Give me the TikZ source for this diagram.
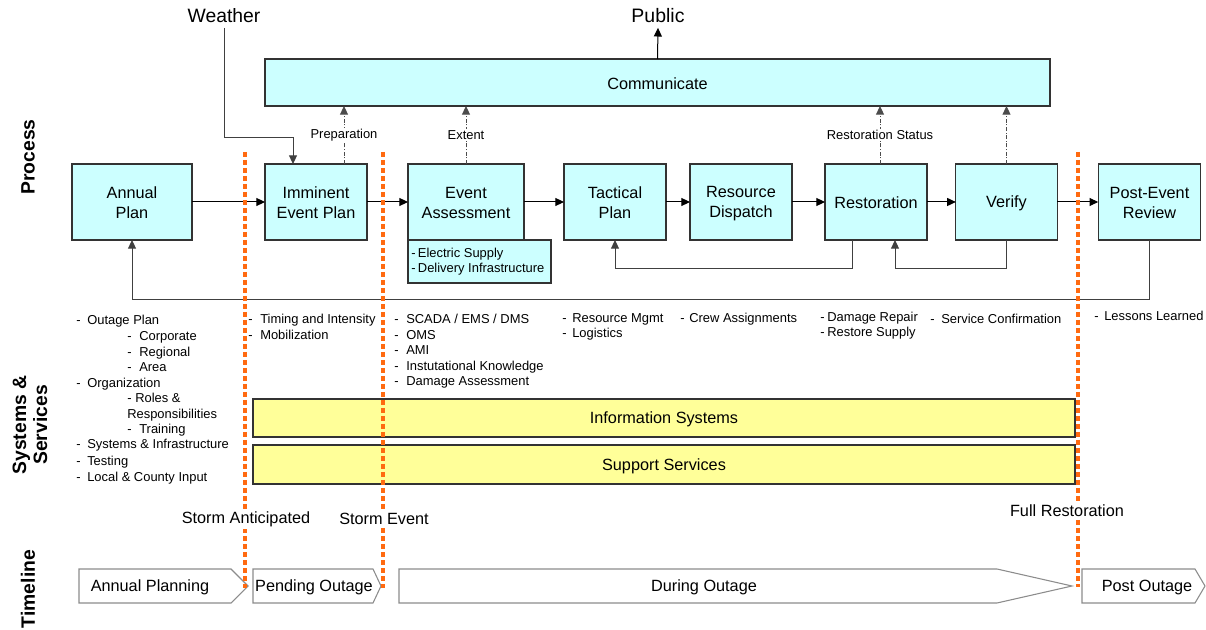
\documentclass[tikz,border=0pt]{standalone}
\usepackage{fontspec}
\setmainfont{Liberation Sans}
\usetikzlibrary{arrows.meta,calc}
\definecolor{boxcyan}{HTML}{CCFFFF}
\definecolor{boxyellow}{HTML}{FFFF99}
\definecolor{stormorange}{HTML}{FF6A10}
\definecolor{edgegray}{HTML}{333333}
% bullet dash followed by a gap of the given width
\newcommand\dsh[1]{\makebox[#1][l]{-}}
% strut that keeps box text vertically centred
\newcommand\bstrut{\rule[-1pt]{0pt}{12pt}}

\begin{document}
\begin{tikzpicture}[x=0.75pt,y=-0.75pt,
  font=\fontsize{12.2}{15}\selectfont,
  procbox/.style={draw=edgegray, line width=0.8pt, fill=boxcyan, inner sep=0pt, outer sep=0pt,
                  minimum height=57pt, align=center},
  sysbox/.style={draw=edgegray, line width=0.8pt, fill=boxyellow, inner sep=0pt, outer sep=0pt,
                 minimum width=616.5pt},
  flowarrow/.style={line width=0.75pt, -{Triangle[length=6.5pt,width=6pt]}},
  returnarrow/.style={flowarrow, draw=black!75},
  infoarrow/.style={flowarrow, draw=black!70, dash pattern=on 3pt off 1.2pt on 0.8pt off 1.2pt},
  smalltext/.style={font=\fontsize{9.7}{11.6}\selectfont},
  listitem/.style={smalltext, anchor=base west, inner sep=0pt},
  flowlabel/.style={smalltext, fill=white, inner sep=1pt},
  sectionlabel/.style={font=\fontsize{14.5}{15.75}\selectfont\bfseries, rotate=90, align=center},
  stormline/.style={draw=stormorange, line width=2.8pt, dash pattern=on 3.6pt off 2.4pt},
  milestone/.style={fill=white, inner sep=1.5pt},
  phaseshape/.style={draw=black!45, line width=0.8pt, fill=white},
]
\useasboundingbox (0,0) rectangle (1206,630);

% ---- section headings ----
\node[sectionlabel] (hproc) at (28,157) {Process};
\node[sectionlabel] (hsys) at (30,425) {Systems \&\\Services};
\node[sectionlabel] (htime) at (28,589) {Timeline};

% ---- process chain ----
\node[procbox, minimum width=90pt]   (ap)   at (132,202)   {\bstrut Annual\\\bstrut Plan};
\node[procbox, minimum width=76.5pt] (imm)  at (316,202)   {\bstrut Imminent\\\bstrut Event Plan};
\node[procbox, minimum width=87pt]   (ea)   at (466,202)   {\bstrut Event\\\bstrut Assessment};
\node[procbox, minimum width=107.25pt, minimum height=32.25pt, anchor=north west] (easub) at (ea.south west) {};
\node[procbox, minimum width=76.5pt] (tac)  at (615,202)   {\bstrut Tactical\\\bstrut Plan};
\node[procbox, minimum width=76.5pt] (rd)   at (741,202)   {\bstrut Resource\\\bstrut Dispatch};
\node[procbox, minimum width=76.5pt] (rest) at (876,202)   {\bstrut Restoration};
\node[procbox, minimum width=76pt]   (ver)  at (1006.5,202) {\bstrut Verify};
\node[procbox, minimum width=77pt]   (post) at (1149.5,202) {\bstrut Post-Event\\\bstrut Review};

\node[listitem] (es1) at (411,258) {\dsh{5pt}Electric Supply};
\node[listitem] (es2) at (411,273) {\dsh{5pt}Delivery Infrastructure};

\node[procbox, minimum width=588.75pt, minimum height=35.25pt] (comm) at (657.5,82.5) {\bstrut Communicate};

\node[font=\fontsize{14.5}{16}\selectfont] (weather) at (224,16) {Weather};
\node[font=\fontsize{14.6}{16}\selectfont] (public)  at (658,16) {Public};

% ---- connectors ----
\draw[flowarrow] (ap) -- (imm);
\draw[flowarrow] (imm) -- (ea);
\draw[flowarrow] (ea) -- (tac);
\draw[flowarrow] (tac) -- (rd);
\draw[flowarrow] (rd) -- (rest);
\draw[flowarrow] (rest) -- (ver);
\draw[flowarrow] (ver) -- (post);
\draw[flowarrow] (comm.north) -- (public.south);

\coordinate (wbend) at (224,138);
\draw[returnarrow] (weather.south) -- (wbend) -| ([xshift=-17.25pt]imm.north);

\draw[returnarrow] ([xshift=-18pt]rest.south) -- ++(0,29) -| (tac.south);
\draw[returnarrow] (ver.south) -- ++(0,29) -| ([xshift=14.25pt]rest.south);
\draw[returnarrow] (post.south) -- ++(0,60) -| (ap.south);

\draw[infoarrow] ([xshift=21pt]imm.north) -- ([xshift=21pt]imm.north |- comm.south)
  node[flowlabel, pos=0.5] (lprep) {Preparation};
\draw[infoarrow] (ea.north) -- (ea.north |- comm.south)
  node[flowlabel, pos=0.5] (lext) {Extent};
\draw[infoarrow] ([xshift=3pt]rest.north) -- ([xshift=3pt]rest.north |- comm.south)
  node[flowlabel, pos=0.5] (lstat) {Restoration Status};
\draw[infoarrow] (ver.north) -- (ver.north |- comm.south);

% ---- systems & services lists ----
\node[listitem] (o1)  at (76,325)  {\dsh{8.25pt}Outage Plan};
\node[listitem] (o2)  at (127,341) {\dsh{9pt}Corporate};
\node[listitem] (o3)  at (127,357) {\dsh{9pt}Regional};
\node[listitem] (o4)  at (127,372) {\dsh{9pt}Area};
\node[listitem] (o5)  at (76,388)  {\dsh{8.25pt}Organization};
\node[listitem] (o6)  at (127,403) {\dsh{6pt}Roles \&};
\node[listitem] (o7)  at (127,419) {Responsibilities};
\node[listitem] (o8)  at (127,434) {\dsh{9pt}Training};
\node[listitem] (o9)  at (76,449)  {\dsh{8.25pt}Systems \& Infrastructure};
\node[listitem] (o10) at (76,465)  {\dsh{8.25pt}Testing};
\node[listitem] (o11) at (76,481)  {\dsh{8.25pt}Local \& County Input};

\node[listitem] (t1) at (248,324) {\dsh{9pt}Timing and Intensity};
\node[listitem] (t2) at (248,340) {\dsh{9pt}Mobilization};

\node[listitem] (s1) at (394,324) {\dsh{9pt}SCADA / EMS / DMS};
\node[listitem] (s2) at (394,340) {\dsh{9pt}OMS};
\node[listitem] (s3) at (394,355) {\dsh{9pt}AMI};
\node[listitem] (s4) at (394,371) {\dsh{9pt}Instutational Knowledge};
\node[listitem] (s5) at (394,386) {\dsh{9pt}Damage Assessment};

\node[listitem] (r1) at (562,323) {\dsh{7.5pt}Resource Mgmt};
\node[listitem] (r2) at (562,338) {\dsh{7.5pt}Logistics};

\node[listitem] (c1) at (680,323) {\dsh{6.75pt}Crew Assignments};

\node[listitem] (d1) at (820,322) {\dsh{5.25pt}Damage Repair};
\node[listitem] (d2) at (820,337) {\dsh{5.25pt}Restore Supply};

\node[listitem] (v1) at (930,324) {\dsh{8.25pt}Service Confirmation};

\node[listitem] (p1) at (1094,321) {\dsh{7.5pt}Lessons Learned};

\node[sysbox, minimum height=28.5pt]  (isys) at (664,418)   {\bstrut Information Systems};
\node[sysbox, minimum height=29.25pt] (ssvc) at (664,464.5) {\bstrut Support Services};

% ---- timeline phases ----
\draw[phaseshape] (79,569) -- (231,569) -- (248,586) -- (231,603) -- (79,603) -- cycle;
\draw[phaseshape] (253,569) -- (373,569) -- (381,586) -- (373,603) -- (253,603) -- cycle;
\draw[phaseshape] (399,569) -- (997,569) -- (1072,586) -- (997,603) -- (399,603) -- cycle;
\draw[phaseshape] (1082,569) -- (1195,569) -- (1205,586) -- (1195,603) -- (1082,603) -- cycle;
\node (ph1) at (150,586)  {\bstrut Annual Planning};
\node (ph2) at (314,586)  {\bstrut Pending Outage};
\node (ph3) at (704,586)  {\bstrut During Outage};
\node (ph4) at (1147,586) {\bstrut Post Outage};

% ---- storm milestones ----
\draw[stormline] (245,152) -- (245,588);
\draw[stormline] (383,152) -- (383,588);
\draw[stormline] (1078,152) -- (1078,587);
\node[milestone] (m1) at (246,519)  {Storm Anticipated};
\node[milestone] (m2) at (384,519)  {Storm Event};
\node[milestone] (m3) at (1067,511) {Full Restoration};
\end{tikzpicture}
\end{document}
